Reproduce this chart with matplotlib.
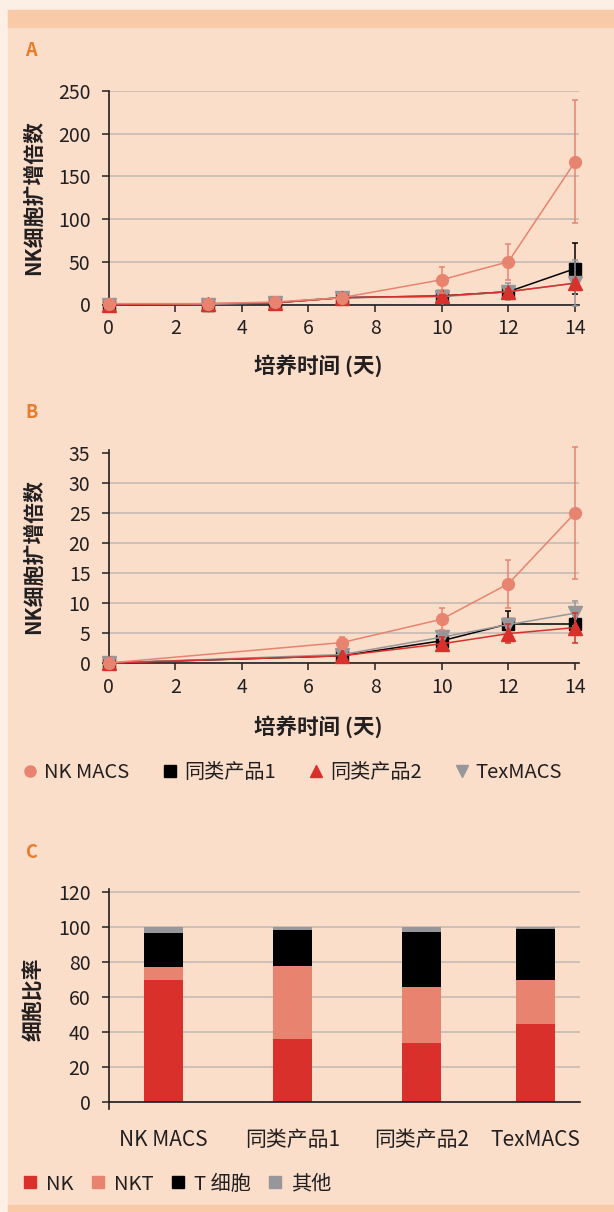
import numpy as np
import matplotlib
matplotlib.use("Agg")
import matplotlib.pyplot as plt
from matplotlib.lines import Line2D
from matplotlib.patches import Rectangle

plt.rcParams['font.family'] = ['Noto Sans CJK SC', 'DejaVu Sans']

# ---- data ----
series_names = ["NK MACS", "同类产品1", "同类产品2", "TexMACS"]

days_a = [0, 3, 5, 7, 10, 12, 14]
nk_a = [1, 1, 3, 8, 29, 50, 167]
nk_a_err = [0.5, 0.5, 1, 2, 15, 21, 72]
p1_a = [0, 0, 2, 8, 10, 15, 42]
p1_a_err = [0.5, 0.5, 1, 2, 2, 5, 30]
p2_a = [0, 1, 2, 8, 10, 15, 25]
p2_a_err = [0.5, 0.5, 1, 2, 2, 3, 4]
tex_a = [0, 0, 2, 8, 9, 15, 25]
tex_a_err = [0.5, 0.5, 1, 2, 3, 10, 27]

days_b = [0, 7, 10, 12, 14]
nk_b = [0, 3.4, 7.3, 13.2, 25.0]
nk_b_err = [0, 1.0, 1.8, 4.0, 11.0]
p1_b = [0, 1.2, 3.7, 6.5, 6.5]
p1_b_err = [0, 0.3, 0.5, 2.2, 1.0]
p2_b = [0, 1.2, 3.2, 4.9, 5.9]
p2_b_err = [0, 0.3, 1.1, 1.6, 2.5]
tex_b = [0, 1.4, 4.3, 6.4, 8.3]
tex_b_err = [0, 0.3, 0.5, 0.6, 2.1]

groups_c = ["NK MACS", "同类产品1", "同类产品2", "TexMACS"]
types_c = ["NK", "NKT", "T 细胞", "其他"]
nk_c = [70, 36.3, 34, 44.8]
nkt_c = [7.5, 41.7, 32, 25.2]
t_c = [19.5, 20.7, 31.5, 29.2]
other_c = [3.0, 1.3, 2.5, 0.8]

# ---- style ----
C_SALMON = '#E8836F'
C_BLACK = '#000000'
C_RED = '#D9302B'
C_GRAY = '#96969B'
C_TEXT = '#231F20'
C_GRID = '#C8BDB6'
C_ORANGE = '#E87C2C'
BG_PANEL = '#FADECA'
BG_OUTER = '#FCEFE6'
BG_BAND = '#F8CAA8'

W, H = 614, 1212
fig = plt.figure(figsize=(W / 100, H / 100), dpi=100)
fig.patch.set_facecolor(BG_OUTER)
fig.add_artist(Rectangle((8 / W, 0), 1, 1 - 10 / H, transform=fig.transFigure,
                         color=BG_PANEL, zorder=-10))
fig.add_artist(Rectangle((8 / W, 1 - 27 / H), 1, 17 / H, transform=fig.transFigure,
                         color=BG_BAND, zorder=-9))
fig.add_artist(Rectangle((8 / W, 0), 1, 7 / H, transform=fig.transFigure,
                         color=BG_BAND, zorder=-9))


def px_axes(left, top, right, bottom):
    return fig.add_axes([left / W, 1 - bottom / H, (right - left) / W, (bottom - top) / H])


def style(ax):
    ax.set_facecolor('none')
    for s in ['top', 'right']:
        ax.spines[s].set_visible(False)
    for s in ['left', 'bottom']:
        ax.spines[s].set_color(C_TEXT)
        ax.spines[s].set_linewidth(1.2)
    ax.tick_params(direction='out', length=5, width=1.1, labelsize=14,
                   colors=C_TEXT, pad=5)
    ax.tick_params(axis='y', pad=8)
    ax.yaxis.grid(True, color=C_GRID, lw=1.3)
    ax.set_axisbelow(True)


def draw_series(ax, x, ys, errs):
    specs = [(C_BLACK, 's', 9), (C_GRAY, 'v', 9.5), (C_RED, '^', 9.5), (C_SALMON, 'o', 8.5)]
    order = [1, 3, 2, 0]
    for (col, mk, ms), i in zip(specs, order):
        cont = ax.errorbar(x, ys[i], yerr=errs[i], fmt='-' + mk, color=col, ms=ms,
                           mec=col, lw=1.1, elinewidth=1.1, capsize=2.5, capthick=1.1,
                           zorder=3 + order.index(i))
        for art in cont.get_children():
            art.set_clip_on(False)


def panel_label(txt, x, y):
    fig.text(x / W, 1 - y / H, txt, color=C_ORANGE, fontsize=13, fontweight='bold',
             ha='center', va='center')


# ---- panel A ----
axA = px_axes(108.5, 91, 579, 304.5)
style(axA)
draw_series(axA, days_a, [nk_a, p1_a, p2_a, tex_a], [nk_a_err, p1_a_err, p2_a_err, tex_a_err])
axA.set_xlim(0, 14.12)
axA.set_ylim(0, 250)
axA.set_xticks(range(0, 15, 2))
axA.set_yticks(range(0, 251, 50))
axA.set_xlabel("培养时间 (天)", fontsize=15.5, fontweight='bold', color=C_TEXT)
axA.xaxis.set_label_coords(0.445, -0.235)
axA.set_ylabel("NK细胞扩增倍数", fontsize=15, fontweight='bold', color=C_TEXT, va='center')
axA.yaxis.set_label_coords(-0.159, 0.5)
panel_label("A", 31, 51)

# ---- panel B ----
axB = px_axes(108.5, 450, 579, 663)
style(axB)
draw_series(axB, days_b, [nk_b, p1_b, p2_b, tex_b], [nk_b_err, p1_b_err, p2_b_err, tex_b_err])
axB.set_xlim(0, 14.12)
axB.set_ylim(0, 35.5)
axB.set_xticks(range(0, 15, 2))
axB.set_yticks(range(0, 36, 5))
axB.get_ygridlines()[-1].set_visible(False)
axB.set_xlabel("培养时间 (天)", fontsize=15.5, fontweight='bold', color=C_TEXT)
axB.xaxis.set_label_coords(0.445, -0.245)
axB.set_ylabel("NK细胞扩增倍数", fontsize=15, fontweight='bold', color=C_TEXT, va='center')
axB.yaxis.set_label_coords(-0.159, 0.5)
panel_label("B", 32, 413)

# legend for A/B
handles_ab = [
    Line2D([], [], ls='none', marker='o', ms=8, color=C_SALMON),
    Line2D([], [], ls='none', marker='s', ms=8, color=C_BLACK),
    Line2D([], [], ls='none', marker='^', ms=9, color=C_RED),
    Line2D([], [], ls='none', marker='v', ms=9, color=C_GRAY),
]
fig.legend(handles_ab, series_names, loc='center left', bbox_to_anchor=(22 / W, 1 - 773 / H),
           ncol=4, frameon=False, fontsize=14.5, handlelength=0.8, handletextpad=0.3,
           columnspacing=1.6, borderpad=0, borderaxespad=0, labelcolor=C_TEXT)

panel_label("C", 32, 853)

# ---- panel C ----
axC = px_axes(108.5, 889, 580, 1108.6)
style(axC)
xpos = np.array([0.427, 1.425, 2.426, 3.31])
bar_w = 0.30
bottom = np.zeros(len(groups_c))
for vals, col in zip([nk_c, nkt_c, t_c, other_c], [C_RED, C_SALMON, C_BLACK, C_GRAY]):
    axC.bar(xpos, vals, bar_w, bottom=bottom, color=col, zorder=2)
    bottom += np.array(vals)
axC.set_xlim(0, 3.656)
axC.set_ylim(-3.5, 122)
axC.spines['bottom'].set_position(('data', 0))
axC.set_yticks(range(0, 121, 20))
axC.set_xticks(xpos)
axC.set_xticklabels(groups_c, fontsize=15)
axC.tick_params(axis='x', length=0, pad=19)
axC.set_ylabel("细胞比率", fontsize=15, fontweight='bold', color=C_TEXT, va='center')
axC.yaxis.set_label_coords(-0.159, 0.5)

handles_c = [Line2D([], [], ls='none', marker='s', ms=8.5, color=c)
             for c in [C_RED, C_SALMON, C_BLACK, C_GRAY]]
fig.legend(handles_c, types_c, loc='center left', bbox_to_anchor=(22 / W, 1 - 1184 / H),
           ncol=4, frameon=False, fontsize=14.5, handlelength=0.8, handletextpad=0.4,
           columnspacing=0.8, borderpad=0, borderaxespad=0, labelcolor=C_TEXT)

fig.savefig("out.png", dpi=100, facecolor=fig.get_facecolor())
